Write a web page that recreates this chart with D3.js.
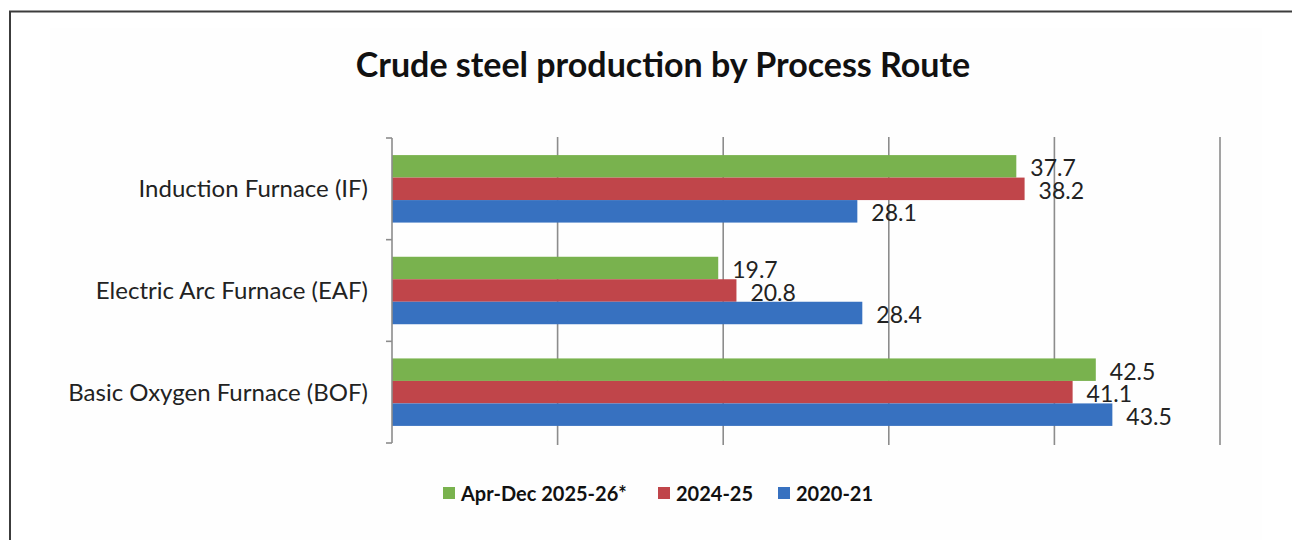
<!DOCTYPE html>
<html>
<head>
<meta charset="utf-8">
<script src="https://cdn.jsdelivr.net/npm/d3@7"></script>
<style>
  html, body { margin: 0; padding: 0; background: #ffffff; }
  svg { display: block; }
  text { font-family: Lato, "Open Sans", sans-serif; fill: #1a1a1a; }
</style>
</head>
<body>
<svg id="chart" width="1292" height="540"></svg>
<script>
// Process routes, top to bottom
const categories = ["Induction Furnace (IF)", "Electric Arc Furnace (EAF)", "Basic Oxygen Furnace (BOF)"];
// Periods, drawn top to bottom within each route
const series = ["Apr-Dec 2025-26*", "2024-25", "2020-21"];
const seriesColors = ["#79b24e", "#c0454a", "#3771c0"];
// Share of crude steel output (%) per route, one array per period
const values2025 = [37.7, 19.7, 42.5];
const values2024 = [38.2, 20.8, 41.1];
const values2020 = [28.1, 28.4, 43.5];
const xTicks = [0, 10, 20, 30, 40, 50];

const seriesValues = [values2025, values2024, values2020];
const rows = [];
categories.forEach((c, ci) => {
  series.forEach((s, si) => rows.push({ category: c, series: s, si, value: seriesValues[si][ci] }));
});

const svg = d3.select("#chart");
const W = 1292, H = 540;

// outer frame (top and left edges visible) and a faint chart area
svg.append("rect").attr("x", 50).attr("y", 28).attr("width", 1212).attr("height", 520).attr("fill", "#fefefe");
svg.append("line").attr("x1", 9).attr("x2", W).attr("y1", 11.5).attr("y2", 11.5).attr("stroke", "#3c3c3c").attr("stroke-width", 2);
svg.append("line").attr("x1", 10).attr("x2", 10).attr("y1", 11).attr("y2", H).attr("stroke", "#3c3c3c").attr("stroke-width", 2);

// title
svg.append("text")
  .attr("x", 663).attr("y", 63)
  .attr("text-anchor", "middle").attr("dominant-baseline", "central")
  .style("font-size", "34px").style("font-weight", "700")
  .style("fill", "#111")
  .text("Crude steel production by Process Route");

const x = d3.scaleLinear().domain([0, 50]).range([392, 1220]);
const y0 = d3.scaleBand().domain(categories).range([138, 443]).padding(0);
const y1 = d3.scaleBand().domain(series).range([0, y0.bandwidth()]).paddingInner(0).paddingOuter(0.76);

// vertical gridlines
svg.append("g").selectAll("line").data(xTicks.slice(1)).join("line")
  .attr("x1", d => x(d)).attr("x2", d => x(d))
  .attr("y1", 137).attr("y2", 445)
  .attr("stroke", "#8c8c8c").attr("stroke-width", 1.6);

// bars
svg.append("g").selectAll("rect").data(rows).join("rect")
  .attr("x", x(0))
  .attr("y", d => y0(d.category) + y1(d.series))
  .attr("width", d => x(d.value) - x(0))
  .attr("height", y1.bandwidth())
  .attr("fill", d => seriesColors[d.si]);

// value labels
svg.append("g").selectAll("text").data(rows).join("text")
  .attr("x", d => x(d.value) + 14)
  .attr("y", d => y0(d.category) + y1(d.series) + y1.bandwidth() / 2 + 1)
  .attr("dominant-baseline", "central")
  .style("font-size", "23px")
  .style("fill", "#222")
  .text(d => d.value.toFixed(1));

// category axis
const yAxis = d3.axisLeft(y0).tickSize(0).tickPadding(24);
const gy = svg.append("g").attr("transform", `translate(${x(0)},0)`).call(yAxis);
gy.select(".domain").remove();
gy.selectAll("text").style("font-size", "24px").style("fill", "#222")
  .style("font-family", "Lato, 'Open Sans', sans-serif").attr("dy", "0.35em");
// axis line and boundary ticks between categories
svg.append("line").attr("x1", x(0)).attr("x2", x(0)).attr("y1", 138).attr("y2", 443)
  .attr("stroke", "#8c8c8c").attr("stroke-width", 1.6);
const bounds = categories.map(c => y0(c)).concat([y0.range()[1]]);
svg.append("g").selectAll("line").data(bounds).join("line")
  .attr("x1", x(0) - 6).attr("x2", x(0))
  .attr("y1", d => d).attr("y2", d => d)
  .attr("stroke", "#8c8c8c").attr("stroke-width", 1.6);

// legend
const legendX = [443, 658, 778];
const lg = svg.append("g").selectAll("g").data(series).join("g")
  .attr("transform", (d, i) => `translate(${legendX[i]},493)`);
lg.append("rect").attr("x", 0).attr("y", -6).attr("width", 12).attr("height", 12)
  .attr("fill", (d, i) => seriesColors[i]);
lg.append("text").attr("x", 18).attr("y", 0).attr("dominant-baseline", "central")
  .style("font-size", "20px").style("font-weight", "700").style("fill", "#111")
  .text(d => d);
</script>
</body>
</html>
